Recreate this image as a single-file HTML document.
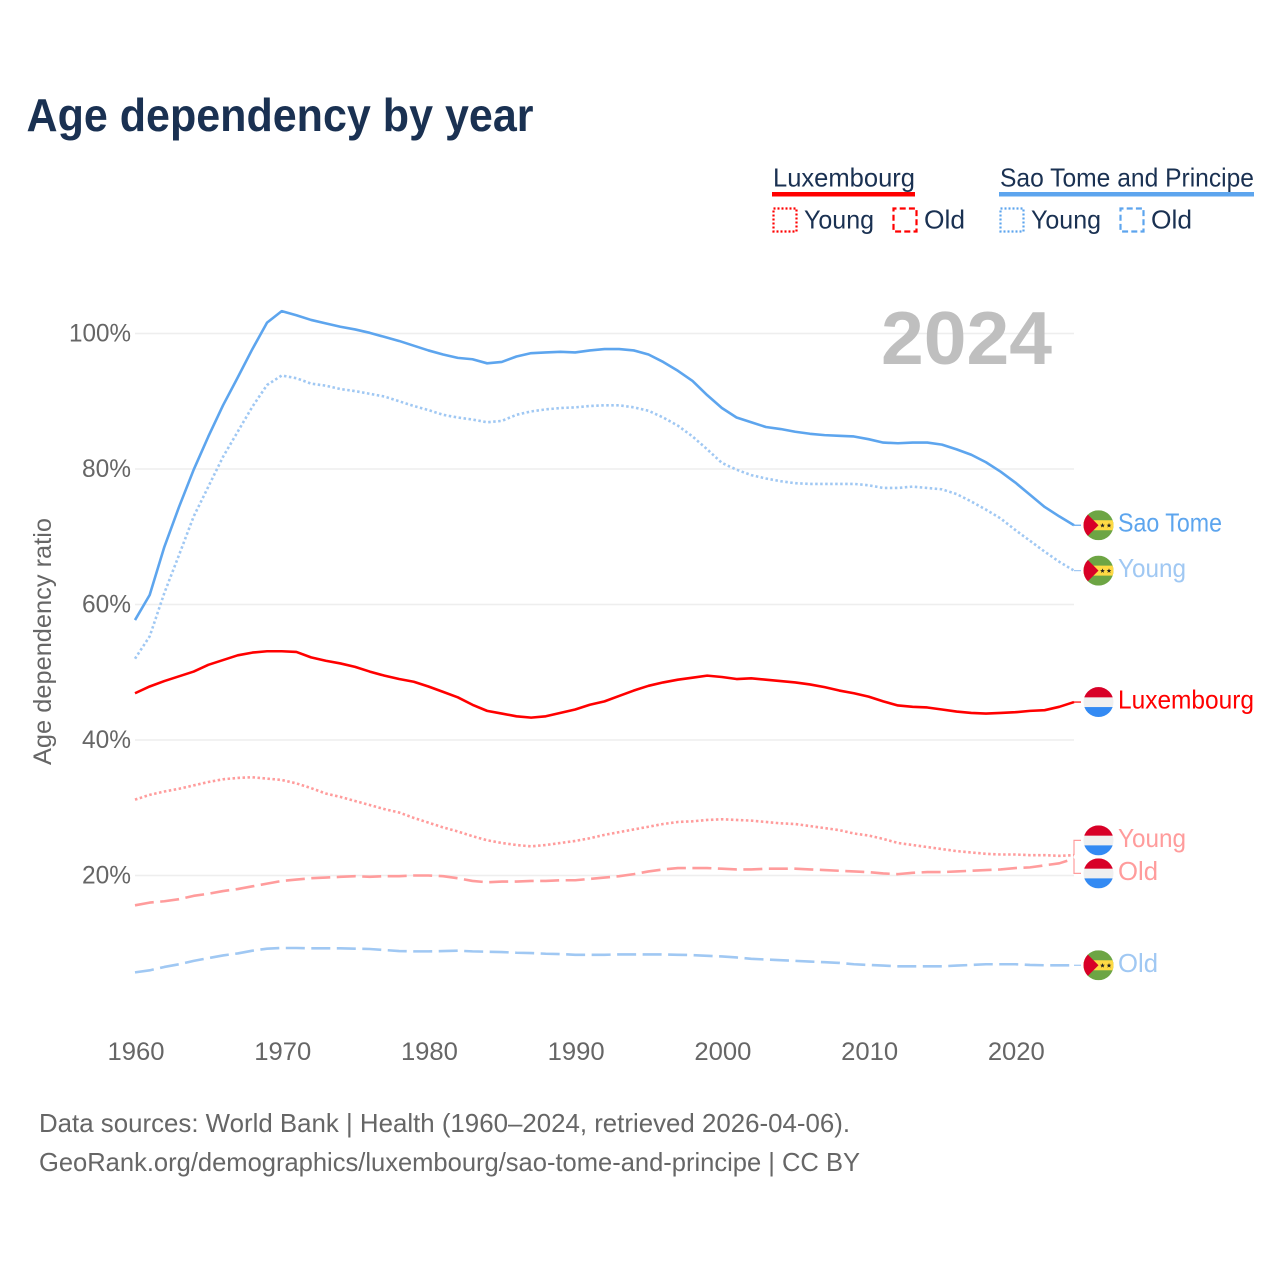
<!DOCTYPE html>
<html lang="en">
<head>
<meta charset="utf-8">
<title>Age dependency by year</title>
<style>
html,body{margin:0;padding:0;background:#fff}
svg{display:block}
text{font-family:"Liberation Sans",sans-serif}
</style>
</head>
<body>
<svg id="chart" xmlns="http://www.w3.org/2000/svg" width="1280" height="1280" viewBox="0 0 1280 1280">
  <defs>
    <clipPath id="flag-clip"><circle cx="0" cy="0" r="15"/></clipPath>
    <symbol id="flag-st" overflow="visible" viewBox="-15 -15 30 30" width="30" height="30">
      <g clip-path="url(#flag-clip)">
        <rect x="-15" y="-15" width="30" height="30" fill="#6da544"/>
        <rect x="-15" y="-5" width="30" height="10" fill="#ffda44"/>
        <polygon points="-15,-15 0,0 -15,15" fill="#d80027"/>
        <polygon points="4,-2.2 4.7,-0.5 6.4,-0.5 5,0.6 5.6,2.3 4,1.3 2.4,2.3 3,0.6 1.6,-0.5 3.3,-0.5" fill="#222"/>
        <polygon points="10.5,-2.2 11.2,-0.5 12.9,-0.5 11.5,0.6 12.1,2.3 10.5,1.3 8.9,2.3 9.5,0.6 8.1,-0.5 9.8,-0.5" fill="#222"/>
      </g>
    </symbol>
    <symbol id="flag-lu" overflow="visible" viewBox="-15 -15 30 30" width="30" height="30">
      <g clip-path="url(#flag-clip)">
        <rect x="-15" y="-15" width="30" height="30" fill="#f0f0f0"/>
        <rect x="-15" y="-15" width="30" height="10.3" fill="#d80027"/>
        <rect x="-15" y="5" width="30" height="10" fill="#338af3"/>
      </g>
    </symbol>
  </defs>

  <text x="26.5" y="131" font-size="46" font-weight="700" fill="#1a3152" textLength="507" lengthAdjust="spacingAndGlyphs">Age dependency by year</text>

  <g>
    <text x="773" y="186.5" font-size="26" fill="#1a3152" textLength="142" lengthAdjust="spacingAndGlyphs">Luxembourg</text>
    <rect x="772" y="192" width="143" height="4.5" fill="#ff0000"/>
    <rect x="773.5" y="208.5" width="23" height="23" fill="none" stroke="#ff0000" stroke-width="2.2" stroke-dasharray="2 2"/>
    <text x="804" y="228.5" font-size="26" fill="#1a3152" textLength="70" lengthAdjust="spacingAndGlyphs">Young</text>
    <rect x="893.5" y="208.5" width="23" height="23" fill="none" stroke="#ff0000" stroke-width="2.2" stroke-dasharray="6 3.2" stroke-dashoffset="3"/>
    <text x="924" y="228.5" font-size="26" fill="#1a3152" textLength="41" lengthAdjust="spacingAndGlyphs">Old</text>

    <text x="1000" y="186.5" font-size="26" fill="#1a3152" textLength="254" lengthAdjust="spacingAndGlyphs">Sao Tome and Principe</text>
    <rect x="999" y="192" width="255" height="4.5" fill="#5da5ee"/>
    <rect x="1000.5" y="208.5" width="23" height="23" fill="none" stroke="#5da5ee" stroke-width="2.2" stroke-dasharray="2 2"/>
    <text x="1031" y="228.5" font-size="26" fill="#1a3152" textLength="70" lengthAdjust="spacingAndGlyphs">Young</text>
    <rect x="1120.5" y="208.5" width="23" height="23" fill="none" stroke="#5da5ee" stroke-width="2.2" stroke-dasharray="6 3.2" stroke-dashoffset="3"/>
    <text x="1151" y="228.5" font-size="26" fill="#1a3152" textLength="41" lengthAdjust="spacingAndGlyphs">Old</text>
  </g>

  <text transform="translate(51 765) rotate(-90)" font-size="25" fill="#666666" textLength="247" lengthAdjust="spacingAndGlyphs">Age dependency ratio</text>

  <g id="grid"></g>
  <g id="y-ticks"></g>
  <g id="x-ticks"></g>

  <text x="881" y="364" font-size="75" font-weight="700" fill="#bfbfbf" textLength="171" lengthAdjust="spacingAndGlyphs">2024</text>

  <g id="series"></g>
  <g id="labels"></g>

  <text x="39" y="1132" font-size="26" fill="#666666" textLength="811" lengthAdjust="spacingAndGlyphs">Data sources: World Bank | Health (1960–2024, retrieved 2026-04-06).</text>
  <text x="39" y="1171" font-size="26" fill="#666666" textLength="821" lengthAdjust="spacingAndGlyphs">GeoRank.org/demographics/luxembourg/sao-tome-and-principe | CC BY</text>
</svg>

<script>
const years = [1960,1961,1962,1963,1964,1965,1966,1967,1968,1969,1970,1971,1972,1973,1974,1975,1976,1977,1978,1979,1980,1981,1982,1983,1984,1985,1986,1987,1988,1989,1990,1991,1992,1993,1994,1995,1996,1997,1998,1999,2000,2001,2002,2003,2004,2005,2006,2007,2008,2009,2010,2011,2012,2013,2014,2015,2016,2017,2018,2019,2020,2021,2022,2023,2024];
const xTickLabels = [1960,1970,1980,1990,2000,2010,2020];
const yTickValues = [20,40,60,80,100];

const saoTotal = [57.7,61.4,68.5,74.4,79.9,84.8,89.4,93.5,97.7,101.6,103.3,102.7,102.0,101.5,101.0,100.6,100.1,99.5,98.9,98.2,97.5,96.9,96.4,96.2,95.6,95.8,96.6,97.1,97.2,97.3,97.2,97.5,97.7,97.7,97.5,96.9,95.8,94.5,93.0,90.9,89.0,87.6,86.9,86.2,85.9,85.5,85.2,85.0,84.9,84.8,84.4,83.9,83.8,83.9,83.9,83.6,82.9,82.1,81.0,79.6,78.0,76.2,74.4,73.0,71.7];
const saoYoung = [52.0,55.3,61.7,67.3,73.0,77.4,81.8,85.5,89.2,92.4,93.8,93.4,92.6,92.3,91.8,91.5,91.1,90.7,90.0,89.3,88.7,88.0,87.6,87.3,86.9,87.1,88.0,88.5,88.8,89.0,89.1,89.3,89.4,89.4,89.1,88.6,87.6,86.4,84.8,82.9,80.9,79.9,79.1,78.6,78.2,77.9,77.8,77.8,77.8,77.8,77.6,77.2,77.2,77.4,77.2,77.0,76.3,75.2,74.0,72.7,71.0,69.4,67.8,66.3,65.0];
const saoOld = [5.7,6.0,6.5,6.9,7.4,7.8,8.2,8.5,8.9,9.2,9.3,9.3,9.25,9.25,9.25,9.2,9.15,9.0,8.85,8.8,8.8,8.85,8.9,8.8,8.75,8.7,8.6,8.55,8.45,8.4,8.3,8.3,8.3,8.35,8.35,8.35,8.35,8.3,8.25,8.15,8.05,7.9,7.7,7.6,7.5,7.4,7.3,7.2,7.1,6.9,6.8,6.7,6.6,6.6,6.6,6.6,6.7,6.8,6.9,6.9,6.9,6.8,6.75,6.75,6.75];
const luxTotal = [46.9,47.9,48.7,49.4,50.1,51.1,51.8,52.5,52.9,53.1,53.1,53.0,52.2,51.7,51.3,50.8,50.1,49.5,49.0,48.6,47.9,47.1,46.3,45.2,44.3,43.9,43.5,43.3,43.5,44.0,44.5,45.2,45.7,46.5,47.3,48.0,48.5,48.9,49.2,49.5,49.3,49.0,49.1,48.9,48.7,48.5,48.2,47.8,47.3,46.9,46.4,45.7,45.1,44.9,44.8,44.5,44.2,44.0,43.9,44.0,44.1,44.3,44.4,44.9,45.6];
const luxYoung = [31.2,31.9,32.4,32.8,33.3,33.8,34.2,34.4,34.5,34.3,34.1,33.6,32.9,32.1,31.6,31.0,30.4,29.8,29.3,28.5,27.8,27.1,26.5,25.8,25.2,24.8,24.5,24.3,24.5,24.8,25.1,25.5,26.0,26.4,26.8,27.2,27.6,27.9,28.0,28.2,28.3,28.2,28.1,27.9,27.7,27.6,27.3,27.0,26.7,26.2,25.9,25.4,24.8,24.5,24.2,23.9,23.6,23.4,23.2,23.1,23.1,23.0,23.0,22.9,23.0];
const luxOld = [15.6,16.0,16.2,16.5,17.0,17.3,17.7,18.0,18.4,18.8,19.2,19.4,19.6,19.7,19.8,19.9,19.8,19.9,19.9,20.0,20.0,19.9,19.6,19.2,19.0,19.1,19.1,19.2,19.2,19.3,19.3,19.5,19.7,19.9,20.2,20.6,20.9,21.1,21.1,21.1,21.0,20.9,20.9,21.0,21.0,21.0,20.9,20.8,20.7,20.6,20.5,20.3,20.2,20.4,20.5,20.5,20.6,20.7,20.8,20.9,21.1,21.2,21.5,21.8,22.5];

const SVGNS = 'http://www.w3.org/2000/svg';
function xScale(year){ return 135 + (year - 1960) * (1074 - 135) / 64; }
function yScale(v){ return 1011 - v * 6.775; }
function make(tag, attrs, parent, content){
  const el = document.createElementNS(SVGNS, tag);
  for (const k in attrs) el.setAttribute(k, attrs[k]);
  if (content !== undefined) el.textContent = content;
  parent.appendChild(el);
  return el;
}

const RED = '#ff0000', RED_L = '#ff9c9c', BLUE = '#5da5ee', BLUE_L = '#a0c8f3';
const DOT = '2.5 2.5', DASH = '19 6.5';

const grid = document.getElementById('grid');
const yTicks = document.getElementById('y-ticks');
yTickValues.forEach(function(v){
  const line = make('line', {x1:135, x2:1074, y1:yScale(v), y2:yScale(v), stroke:'#eeeeee', 'stroke-width':1.5}, grid);
  
  
  const t = make('text', {x:131, y:yScale(v)+8, 'font-size':25, fill:'#666666', 'text-anchor':'end', textLength: v === 100 ? 62 : 49, lengthAdjust:'spacingAndGlyphs'}, yTicks, v + '%');
  
  
});

const xTicks = document.getElementById('x-ticks');
xTickLabels.forEach(function(yr){
  const t = make('text', {x:xScale(yr)+1, y:1060, 'font-size':25, fill:'#666666', 'text-anchor':'middle', textLength:57, lengthAdjust:'spacingAndGlyphs'}, xTicks, String(yr));
  
  
});

const seriesGroup = document.getElementById('series');
function drawLine(values, color, width, dash, name){
  const pts = values.map(function(v, i){ return xScale(years[i]).toFixed(2) + ',' + yScale(v).toFixed(2); }).join(' ');
  const attrs = {points:pts, fill:'none', stroke:color, 'stroke-width':width, 'stroke-linejoin':'round'};
  if (dash) attrs['stroke-dasharray'] = dash;
  const line = make('polyline', attrs, seriesGroup);
  
  
}
drawLine(saoOld, BLUE_L, 2.6, DASH, 'line-sao-tome-old');
drawLine(luxOld, RED_L, 2.6, DASH, 'line-luxembourg-old');
drawLine(luxYoung, RED_L, 2.6, DOT, 'line-luxembourg-young');
drawLine(saoYoung, BLUE_L, 2.6, DOT, 'line-sao-tome-young');
drawLine(saoTotal, BLUE, 2.6, null, 'line-sao-tome-total');
drawLine(luxTotal, RED, 2.6, null, 'line-luxembourg-total');

/* End labels: positions follow last data value, with collision dodging */
const endLabels = [
  {text:'Sao Tome',   values:saoTotal, color:BLUE,   flag:'flag-st', width:104},
  {text:'Young',      values:saoYoung, color:BLUE_L, flag:'flag-st', width:68},
  {text:'Luxembourg', values:luxTotal, color:RED,    flag:'flag-lu', width:136},
  {text:'Young',      values:luxYoung, color:RED_L,  flag:'flag-lu', width:68},
  {text:'Old',        values:luxOld,   color:RED_L,  flag:'flag-lu', width:40},
  {text:'Old',        values:saoOld,   color:BLUE_L, flag:'flag-st', width:40}
];
endLabels.forEach(function(l){
  l.y0 = yScale(l.values[l.values.length - 1]);
  l.y = l.y0;
});
const ordered = endLabels.slice().sort(function(a, b){ return a.y0 - b.y0; });
const minGap = 33;
for (let i = 0; i < ordered.length - 1; i++){
  const a = ordered[i], b = ordered[i + 1];
  if (b.y - a.y < minGap){
    const mid = (a.y + b.y) / 2;
    a.y = mid - minGap / 2;
    b.y = mid + minGap / 2;
  }
}
const labelsGroup = document.getElementById('labels');
const endX = xScale(years[years.length - 1]);
endLabels.forEach(function(l){
  let conn;
  if (Math.abs(l.y - l.y0) > 1){
    conn = make('polyline', {points:endX + ',' + l.y0 + ' ' + endX + ',' + l.y + ' 1081,' + l.y, fill:'none', stroke:l.color, 'stroke-width':1.2}, labelsGroup);
  } else {
    conn = make('polyline', {points:endX + ',' + l.y0 + ' 1081,' + l.y, fill:'none', stroke:l.color, 'stroke-width':1.2}, labelsGroup);
  }
  
  
  const flag = make('use', {href:'#' + l.flag, x:1098.5 - 15, y:l.y - 15, width:30, height:30}, labelsGroup);
  
  
  const t = make('text', {x:1118, y:l.y + 6.5, 'font-size':26, fill:l.color, textLength:l.width, lengthAdjust:'spacingAndGlyphs'}, labelsGroup, l.text);
  
  
});
</script>
</body>
</html>
